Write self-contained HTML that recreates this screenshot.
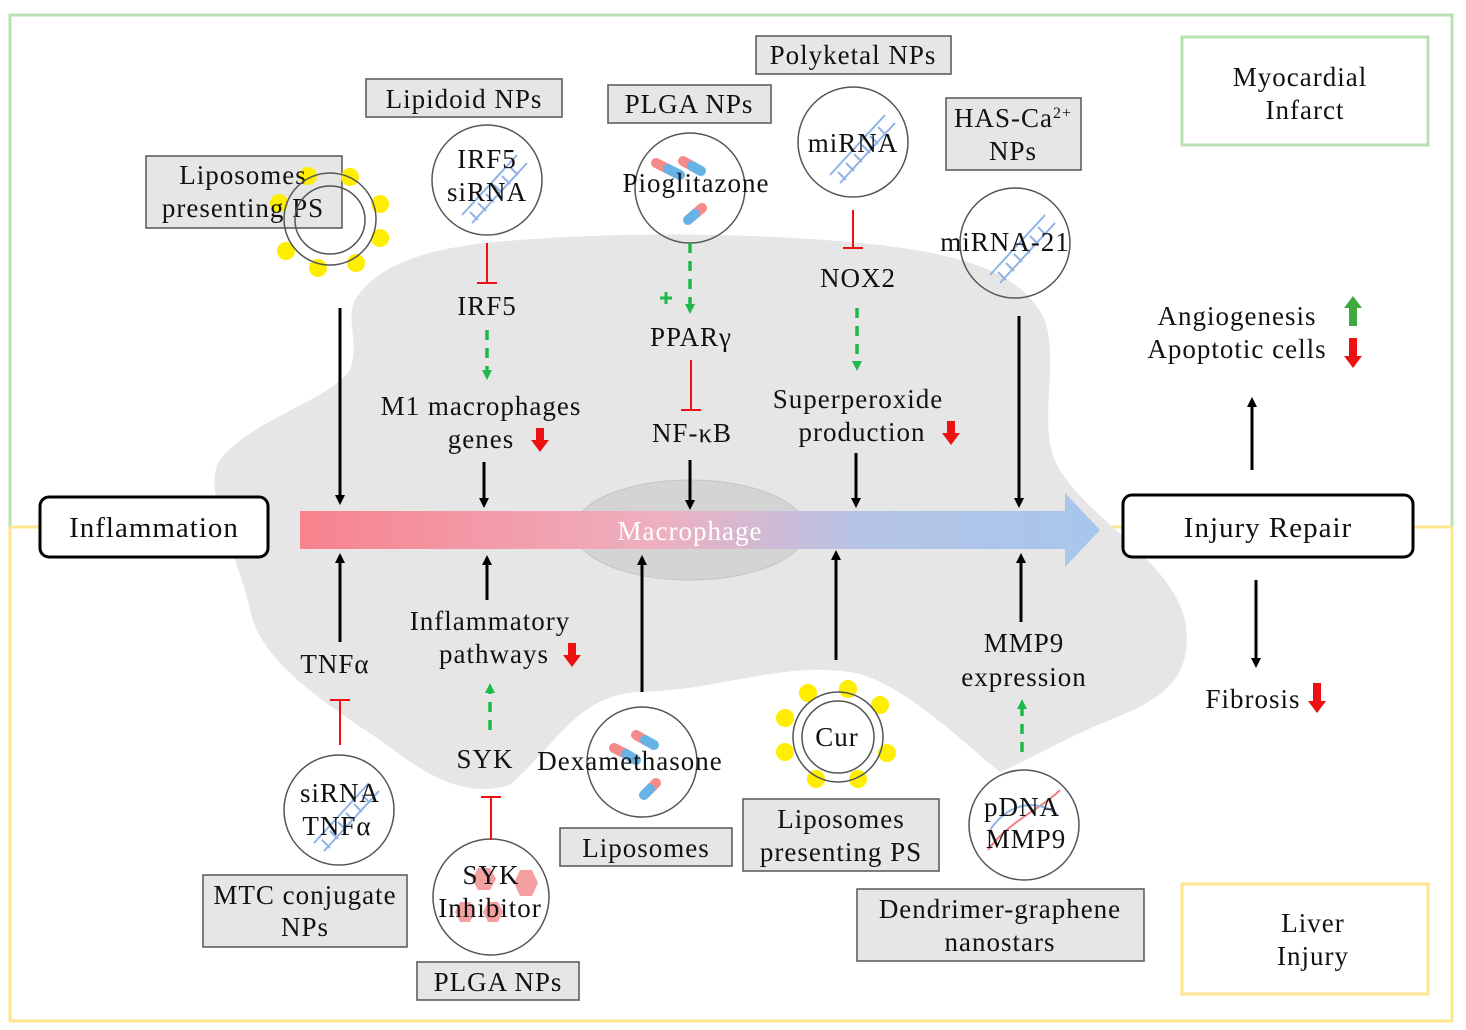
<!DOCTYPE html>
<html><head><meta charset="utf-8"><style>
html,body{margin:0;padding:0;background:#fff;}
svg{display:block;}
text{font-family:"Liberation Serif",serif;font-size:27px;letter-spacing:1px;fill:#111;}
</style></head><body>
<svg width="1466" height="1030" viewBox="0 0 1466 1030" xmlns="http://www.w3.org/2000/svg">
<defs>
<linearGradient id="g" x1="300" y1="0" x2="1100" y2="0" gradientUnits="userSpaceOnUse">
<stop offset="0" stop-color="#f8828e"/><stop offset="0.45" stop-color="#eeb0c0"/><stop offset="0.7" stop-color="#b5c3e6"/><stop offset="1" stop-color="#a7c6ec"/>
</linearGradient>
<marker id="ab" markerWidth="10" markerHeight="10" refX="5" refY="5" orient="auto" markerUnits="userSpaceOnUse"><path d="M0,0 L10,5 L0,10 Z" fill="#000"/></marker>
<marker id="ag" markerWidth="10" markerHeight="10" refX="5" refY="5" orient="auto" markerUnits="userSpaceOnUse"><path d="M0,0 L10,5 L0,10 Z" fill="#1fb84a"/></marker>
</defs>
<rect x="10" y="15" width="1442" height="512" fill="none" stroke="#b9e2b2" stroke-width="3"/>
<path d="M10,527 V1021 H1452 V527" fill="none" stroke="#fde68e" stroke-width="3"/>
<line x1="10" y1="527" x2="1452" y2="527" stroke="#fde68e" stroke-width="3"/>
<path d="M355,300 C380,260 440,245 520,240 C620,232 760,232 880,245 C960,255 1020,270 1045,320 C1060,370 1035,430 1060,470 C1090,520 1170,560 1185,620 C1195,680 1160,700 1110,720 C1060,740 1020,765 1000,772 C960,740 900,680 850,672 C780,662 720,690 640,692 C580,694 560,740 510,785 C460,800 420,770 380,740 C320,700 260,660 250,610 C240,560 200,490 220,460 C250,420 330,400 350,370 C360,340 345,320 355,300 Z" fill="#e6e6e6"/>
<ellipse cx="690" cy="530" rx="116" ry="50" fill="#d4d4d4" stroke="#c4c4c4"/>
<path d="M300,511 H1065 V493 L1100,530 L1065,567 V549 H300 Z" fill="url(#g)"/>
<text x="690" y="540" text-anchor="middle" style="fill:#fff">Macrophage</text>
<rect x="40" y="497" width="228" height="60" rx="9" fill="#fff" stroke="#000" stroke-width="3"/>
<text x="154" y="537" text-anchor="middle" style="font-size:29px">Inflammation</text>
<rect x="1123" y="495" width="290" height="62" rx="9" fill="#fff" stroke="#000" stroke-width="3"/>
<text x="1268" y="537" text-anchor="middle" style="font-size:29px">Injury Repair</text>
<rect x="1182" y="37" width="246" height="108" fill="#fff" stroke="#b9e2b2" stroke-width="3"/>
<text x="1300" y="86" text-anchor="middle">Myocardial</text><text x="1305" y="119" text-anchor="middle">Infarct</text>
<rect x="1182" y="884" width="246" height="110" fill="#fff" stroke="#fde68e" stroke-width="3"/>
<text x="1313" y="932" text-anchor="middle">Liver</text><text x="1313" y="965" text-anchor="middle">Injury</text>
<g fill="#e6e6e6" stroke="#555" stroke-width="1.5">
<rect x="146" y="156" width="196" height="72"/>
<rect x="366" y="79" width="196" height="38"/>
<rect x="608" y="85" width="163" height="38"/>
<rect x="756" y="36" width="195" height="38"/>
<rect x="946" y="98" width="135" height="72"/>
<rect x="203" y="875" width="204" height="72"/>
<rect x="417" y="962" width="162" height="38"/>
<rect x="560" y="828" width="172" height="38"/>
<rect x="743" y="799" width="196" height="72"/>
<rect x="857" y="889" width="287" height="72"/>
</g>
<text x="464" y="108" text-anchor="middle">Lipidoid NPs</text>
<text x="689" y="113" text-anchor="middle">PLGA NPs</text>
<text x="853" y="64" text-anchor="middle">Polyketal NPs</text>
<text x="1013" y="127" text-anchor="middle">HAS-Ca<tspan dy="-9" style="font-size:16px">2+</tspan></text>
<text x="1013" y="160" text-anchor="middle">NPs</text>
<text x="305" y="904" text-anchor="middle">MTC conjugate</text><text x="305" y="936" text-anchor="middle">NPs</text>
<text x="498" y="991" text-anchor="middle">PLGA NPs</text>
<text x="646" y="857" text-anchor="middle">Liposomes</text>
<text x="841" y="828" text-anchor="middle">Liposomes</text><text x="841" y="861" text-anchor="middle">presenting PS</text>
<text x="1000" y="918" text-anchor="middle">Dendrimer-graphene</text><text x="1000" y="951" text-anchor="middle">nanostars</text>
<g fill="#ffee00">
<circle cx="308" cy="176" r="9"/><circle cx="350" cy="177" r="9"/><circle cx="380" cy="204" r="9"/><circle cx="380" cy="238" r="9"/><circle cx="356" cy="263" r="9"/><circle cx="318" cy="268" r="9"/><circle cx="286" cy="251" r="9"/><circle cx="279" cy="203" r="9"/>
<circle cx="785" cy="718" r="9"/><circle cx="808" cy="693" r="9"/><circle cx="848" cy="689" r="9"/><circle cx="880" cy="705" r="9"/><circle cx="887" cy="753" r="9"/><circle cx="858" cy="779" r="9"/><circle cx="816" cy="779" r="9"/><circle cx="785" cy="752" r="9"/>
</g>
<text x="243" y="184" text-anchor="middle">Liposomes</text><text x="243" y="217" text-anchor="middle">presenting PS</text>
<g fill="none" stroke="#555" stroke-width="1.5">
<circle cx="330" cy="219" r="46"/><ellipse cx="330" cy="220" rx="35" ry="34"/>
<circle cx="838" cy="737" r="45"/><circle cx="838" cy="737" r="36"/>
<circle cx="487" cy="180" r="55"/><circle cx="690" cy="188" r="55"/><circle cx="853" cy="142" r="55"/><circle cx="1015" cy="243" r="55"/>
<circle cx="339" cy="810" r="55"/><circle cx="491" cy="897" r="58"/><circle cx="642" cy="762" r="55"/><circle cx="1024" cy="825" r="55"/>
</g>
<g stroke="#8fb3e6" stroke-width="2" fill="none">
<path d="M462,215 L517,155 M472,223 L527,163 M470,212 l8,8 M478,203 l8,8 M486,194 l8,8 M494,185 l8,8 M502,176 l8,8 M510,167 l8,8"/>
<path d="M830,175 L885,115 M840,183 L895,123 M838,172 l8,8 M846,163 l8,8 M854,154 l8,8 M862,145 l8,8 M870,136 l8,8 M878,127 l8,8"/>
<path d="M990,275 L1045,215 M1000,283 L1055,223 M998,272 l8,8 M1006,263 l8,8 M1014,254 l8,8 M1022,245 l8,8 M1030,236 l8,8 M1038,227 l8,8"/>
<path d="M314,843 L369,783 M324,851 L379,791 M322,840 l8,8 M330,831 l8,8 M338,822 l8,8 M346,813 l8,8 M354,804 l8,8 M362,795 l8,8"/>
</g>
<path d="M988,850 C1010,820 1040,810 1060,790" stroke="#f08080" stroke-width="2" fill="none"/>
<path d="M990,830 C1010,800 1040,800 1058,815" stroke="#8fb3e6" stroke-width="2" fill="none"/>
<g stroke-linecap="round" stroke-width="10">
<line x1="656" y1="163" x2="668" y2="169" stroke="#f48a8a"/><line x1="668" y1="169" x2="680" y2="175" stroke="#67b3e6"/>
<line x1="683" y1="161" x2="692" y2="166" stroke="#f48a8a"/><line x1="692" y1="166" x2="701" y2="171" stroke="#67b3e6"/>
<line x1="702" y1="208" x2="695" y2="214" stroke="#f48a8a"/><line x1="695" y1="214" x2="688" y2="220" stroke="#67b3e6"/>
<line x1="636" y1="735" x2="645" y2="740" stroke="#f48a8a"/><line x1="645" y1="740" x2="654" y2="745" stroke="#67b3e6"/>
<line x1="614" y1="748" x2="626" y2="754" stroke="#f48a8a"/><line x1="626" y1="754" x2="636" y2="760" stroke="#67b3e6"/>
<line x1="656" y1="783" x2="650" y2="789" stroke="#f48a8a"/><line x1="650" y1="789" x2="644" y2="795" stroke="#67b3e6"/>
</g>
<g fill="#f4a0a0"><polygon points="478,868 490,868 496,879 490,890 478,890 472,879"/><polygon points="520,870 532,870 538,883 532,896 520,896 514,883"/><polygon points="460,902 470,902 475,912 470,922 460,922 455,912"/><polygon points="488,902 498,902 503,912 498,922 488,922 483,912"/></g>
<text x="487" y="168" text-anchor="middle">IRF5</text><text x="487" y="201" text-anchor="middle">siRNA</text>
<text x="696" y="192" text-anchor="middle">Pioglitazone</text>
<text x="853" y="152" text-anchor="middle">miRNA</text>
<text x="1005" y="251" text-anchor="middle">miRNA-21</text>
<text x="340" y="802" text-anchor="middle">siRNA</text><text x="337" y="835" text-anchor="middle">TNFα</text>
<text x="491" y="884" text-anchor="middle">SYK</text><text x="490" y="917" text-anchor="middle">Inhibitor</text>
<text x="630" y="770" text-anchor="middle">Dexamethasone</text>
<text x="837" y="746" text-anchor="middle">Cur</text>
<text x="1022" y="816" text-anchor="middle">pDNA</text><text x="1026" y="848" text-anchor="middle">MMP9</text>
<text x="487" y="315" text-anchor="middle">IRF5</text>
<text x="481" y="415" text-anchor="middle">M1 macrophages</text><text x="481" y="448" text-anchor="middle">genes</text>
<text x="691" y="346" text-anchor="middle">PPARγ</text>
<text x="692" y="442" text-anchor="middle">NF-κB</text>
<text x="858" y="287" text-anchor="middle">NOX2</text>
<text x="858" y="408" text-anchor="middle">Superperoxide</text><text x="862" y="441" text-anchor="middle">production</text>
<text x="1237" y="325" text-anchor="middle">Angiogenesis</text><text x="1237" y="358" text-anchor="middle">Apoptotic cells</text>
<text x="1253" y="708" text-anchor="middle">Fibrosis</text>
<text x="335" y="673" text-anchor="middle">TNFα</text>
<text x="490" y="630" text-anchor="middle">Inflammatory</text><text x="494" y="663" text-anchor="middle">pathways</text>
<text x="485" y="768" text-anchor="middle">SYK</text>
<text x="1024" y="652" text-anchor="middle">MMP9</text><text x="1024" y="686" text-anchor="middle">expression</text>
<g stroke="#000" stroke-width="3">
<line x1="340" y1="308" x2="340" y2="500" marker-end="url(#ab)"/>
<line x1="484" y1="462" x2="484" y2="503" marker-end="url(#ab)"/>
<line x1="690" y1="460" x2="690" y2="505" marker-end="url(#ab)"/>
<line x1="856" y1="453" x2="856" y2="503" marker-end="url(#ab)"/>
<line x1="1019" y1="316" x2="1019" y2="503" marker-end="url(#ab)"/>
<line x1="340" y1="642" x2="340" y2="558" marker-end="url(#ab)"/>
<line x1="487" y1="600" x2="487" y2="560" marker-end="url(#ab)"/>
<line x1="642" y1="692" x2="642" y2="560" marker-end="url(#ab)"/>
<line x1="836" y1="660" x2="836" y2="555" marker-end="url(#ab)"/>
<line x1="1021" y1="622" x2="1021" y2="558" marker-end="url(#ab)"/>
<line x1="1252" y1="470" x2="1252" y2="402" marker-end="url(#ab)"/>
<line x1="1256" y1="580" x2="1256" y2="663" marker-end="url(#ab)"/>
</g>
<g stroke="#ee1111" stroke-width="2">
<path d="M487,243 V283 M477,283 H497"/>
<path d="M691,360 V410 M681,410 H701"/>
<path d="M853,210 V248 M843,248 H863"/>
<path d="M340,745 V700 M330,700 H350"/>
<path d="M491,840 V797 M481,797 H501"/>
</g>
<g stroke="#1fb84a" stroke-width="3.5" stroke-dasharray="10,8">
<line x1="487" y1="330" x2="487" y2="375" marker-end="url(#ag)"/>
<line x1="690" y1="243" x2="690" y2="309" marker-end="url(#ag)"/>
<line x1="857" y1="308" x2="857" y2="366" marker-end="url(#ag)"/>
<line x1="490" y1="730" x2="490" y2="688" marker-end="url(#ag)"/>
<line x1="1022" y1="752" x2="1022" y2="704" marker-end="url(#ag)"/>
</g>
<path d="M660,298 H672 M666,292 V304" stroke="#1fb84a" stroke-width="3"/>
<g fill="#ee1111">
<path d="M536,428 h8 v12 h5 l-9,12 l-9,-12 h5 z"/>
<path d="M947,421 h8 v12 h5 l-9,12 l-9,-12 h5 z"/>
<path d="M568,643 h8 v12 h5 l-9,12 l-9,-12 h5 z"/>
<path d="M1349,338 h8 v18 h5 l-9,12 l-9,-12 h5 z"/>
<path d="M1313,683 h8 v18 h5 l-9,12 l-9,-12 h5 z"/>
</g>
<path d="M1349,326 h8 v-18 h5 l-9,-12 l-9,12 h5 z" fill="#3fa83f"/>
</svg>
</body></html>
